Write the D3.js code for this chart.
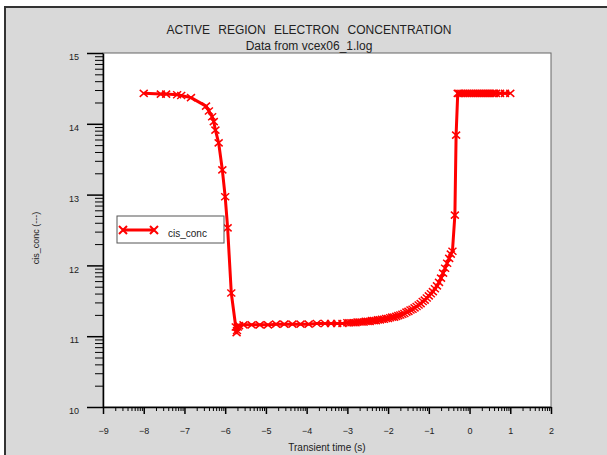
<!DOCTYPE html>
<html>
<head>
<meta charset="utf-8">
<script src="https://cdn.jsdelivr.net/npm/d3@7"></script>
<style>
  body { margin: 0; background: #fff; }
  text { font-family: "Liberation Sans", Arial, sans-serif; fill: #222; }
</style>
</head>
<body>
<div id="container"></div>
<script>
// log10(time) and log10(concentration)
const timeLog = [
  -8.00, -7.58, -7.45, -7.18, -7.08, -6.84, -6.47, -6.40, -6.32, -6.28,
  -6.24, -6.16, -6.07, -6.00, -5.94, -5.85, -5.74, -5.72, -5.71, -5.69,
  -5.66, -5.55, -5.35, -5.15, -4.95, -4.75, -4.55, -4.35, -4.15, -3.95,
  -3.75, -3.55, -3.40, -3.25, -3.12,
  -3.00, -2.95, -2.90, -2.85, -2.80, -2.75, -2.70, -2.65, -2.60, -2.55,
  -2.50, -2.45, -2.40, -2.35, -2.30, -2.25, -2.20, -2.15, -2.10, -2.05,
  -2.00, -1.95, -1.90, -1.85, -1.80, -1.75, -1.70, -1.65, -1.60, -1.55,
  -1.50, -1.45, -1.40, -1.35, -1.30, -1.25, -1.20, -1.15, -1.10, -1.05,
  -1.00, -0.95, -0.90, -0.85, -0.80, -0.75, -0.70, -0.65, -0.60, -0.55,
  -0.50, -0.46, -0.42, -0.36, -0.33, -0.29,
  -0.25, -0.20, -0.15, -0.10, -0.05, 0.00, 0.05, 0.10, 0.15, 0.20,
  0.25, 0.30, 0.35, 0.40, 0.45, 0.50, 0.55, 0.60, 0.65, 0.75, 0.87, 1.00
];
const concLog = [
  14.43, 14.42, 14.42, 14.41, 14.40, 14.37, 14.25, 14.18, 14.10, 14.03,
  13.91, 13.73, 13.35, 12.97, 12.53, 11.61, 11.13, 11.05, 11.08, 11.13,
  11.15, 11.16, 11.16, 11.16, 11.16, 11.17, 11.17, 11.17, 11.17, 11.17,
  11.18, 11.18, 11.18, 11.18, 11.18,
  11.19, 11.19, 11.19, 11.19, 11.19, 11.20, 11.20, 11.20, 11.20, 11.21,
  11.21, 11.21, 11.22, 11.22, 11.22, 11.23, 11.23, 11.24, 11.24, 11.25,
  11.25, 11.26, 11.27, 11.27, 11.28, 11.29, 11.30, 11.31, 11.32, 11.34,
  11.35, 11.37, 11.38, 11.40, 11.42, 11.44, 11.46, 11.49, 11.51, 11.54,
  11.57, 11.60, 11.63, 11.67, 11.71, 11.76, 11.82, 11.89, 11.96, 12.03,
  12.10, 12.16, 12.20, 12.71, 13.84, 14.43,
  14.43, 14.43, 14.43, 14.43, 14.43, 14.43, 14.43, 14.43, 14.43, 14.43,
  14.43, 14.43, 14.43, 14.43, 14.43, 14.43, 14.43, 14.43, 14.43, 14.43, 14.43, 14.43
];
const xTicks = [-9, -8, -7, -6, -5, -4, -3, -2, -1, 0, 1, 2];
const yTicks = [10, 11, 12, 13, 14, 15];
const seriesName = "cis_conc";

const data = timeLog.map((t, i) => ({ t: t, v: concLog[i] }));

const W = 607, H = 455;
const plot = { left: 103, top: 53, right: 551, bottom: 407 };

const svg = d3.select("#container")
  .append("svg")
  .attr("width", W)
  .attr("height", H);

// outer grey panel
svg.append("rect")
  .attr("x", 5).attr("y", 7)
  .attr("width", 640).attr("height", 480)
  .attr("fill", "#d9d9d9")
  .attr("stroke", "#333")
  .attr("stroke-width", 2);

const x = d3.scaleLinear().domain([-9, 2]).range([plot.left, plot.right]);
const y = d3.scaleLinear().domain([10, 15]).range([plot.bottom, plot.top]);

// minor ticks at n + log10(k)
function minors(majors) {
  const out = [];
  for (let i = 0; i < majors.length - 1; i++) {
    for (let k = 2; k <= 9; k++) out.push(majors[i] + Math.log10(k));
  }
  return out;
}

svg.append("rect")
  .attr("x", plot.left).attr("y", plot.top)
  .attr("width", plot.right - plot.left)
  .attr("height", plot.bottom - plot.top)
  .attr("fill", "#fff")
  .attr("stroke", "#666")
  .attr("stroke-width", 1);

svg.append("text")
  .attr("x", 309).attr("y", 34)
  .attr("text-anchor", "middle")
  .style("font-size", "12px")
  .style("word-spacing", "5px")
  .text("ACTIVE REGION ELECTRON CONCENTRATION");

svg.append("text")
  .attr("x", 309).attr("y", 50)
  .attr("text-anchor", "middle")
  .style("font-size", "12px")
  .text("Data from vcex06_1.log");

// x axis
const xMinor = svg.append("g")
  .attr("transform", `translate(0,${plot.bottom})`)
  .call(d3.axisBottom(x).tickValues(minors(xTicks)).tickSize(4).tickSizeOuter(0).tickFormat(""));
xMinor.select(".domain").remove();

const xAxis = svg.append("g")
  .attr("transform", `translate(0,${plot.bottom})`)
  .call(d3.axisBottom(x).tickValues(xTicks).tickSize(7).tickSizeOuter(0).tickPadding(14).tickFormat(d3.format("d")));
xAxis.selectAll("line").attr("stroke-width", 1.5);
xAxis.select(".domain").attr("stroke-width", 1.5);
xAxis.selectAll("text").style("font-size", "9px").attr("fill", "#222");

// y axis
const yMinor = svg.append("g")
  .attr("transform", `translate(${plot.left},0)`)
  .call(d3.axisLeft(y).tickValues(minors(yTicks)).tickSize(8).tickSizeOuter(0).tickFormat(""));
yMinor.select(".domain").remove();

const yAxis = svg.append("g")
  .attr("transform", `translate(${plot.left},0)`)
  .call(d3.axisLeft(y).tickValues(yTicks).tickSize(16).tickSizeOuter(0).tickPadding(8).tickFormat(d3.format("d")));
yAxis.selectAll("line").attr("stroke-width", 1.5);
yAxis.select(".domain").attr("stroke-width", 1.5);
yAxis.selectAll("text").style("font-size", "9px").attr("fill", "#222").attr("dy", "0.75em");

svg.append("text")
  .attr("x", 327).attr("y", 451)
  .attr("text-anchor", "middle")
  .style("font-size", "10px")
  .text("Transient time (s)");

svg.append("text")
  .attr("transform", "translate(39,238) rotate(-90)")
  .attr("text-anchor", "middle")
  .style("font-size", "9px")
  .text("cis_conc (---)");

// series
const cross = "M-4,-3.5L4,3.5M-4,3.5L4,-3.5";

svg.append("path")
  .datum(data)
  .attr("fill", "none")
  .attr("stroke", "#ff0000")
  .attr("stroke-width", 3)
  .attr("stroke-linejoin", "round")
  .attr("d", d3.line().x(d => x(d.t)).y(d => y(d.v)));

svg.append("g")
  .selectAll("path")
  .data(data)
  .join("path")
  .attr("transform", d => `translate(${x(d.t)},${y(d.v)})`)
  .attr("d", cross)
  .attr("stroke", "#ff0000")
  .attr("stroke-width", 1.5)
  .attr("fill", "none");

// legend
const legend = svg.append("g");
legend.append("rect")
  .attr("x", 117).attr("y", 216)
  .attr("width", 107).attr("height", 27)
  .attr("fill", "#fff")
  .attr("stroke", "#555");
legend.append("line")
  .attr("x1", 122).attr("x2", 155)
  .attr("y1", 230).attr("y2", 230)
  .attr("stroke", "#ff0000")
  .attr("stroke-width", 3);
legend.selectAll("path.mk")
  .data([123, 154])
  .join("path")
  .attr("class", "mk")
  .attr("transform", d => `translate(${d},230)`)
  .attr("d", "M-4,-4L4,4M-4,4L4,-4")
  .attr("stroke", "#ff0000")
  .attr("stroke-width", 2)
  .attr("fill", "none");
legend.append("text")
  .attr("x", 168).attr("y", 237)
  .style("font-size", "10px")
  .text(seriesName);
</script>
</body>
</html>
